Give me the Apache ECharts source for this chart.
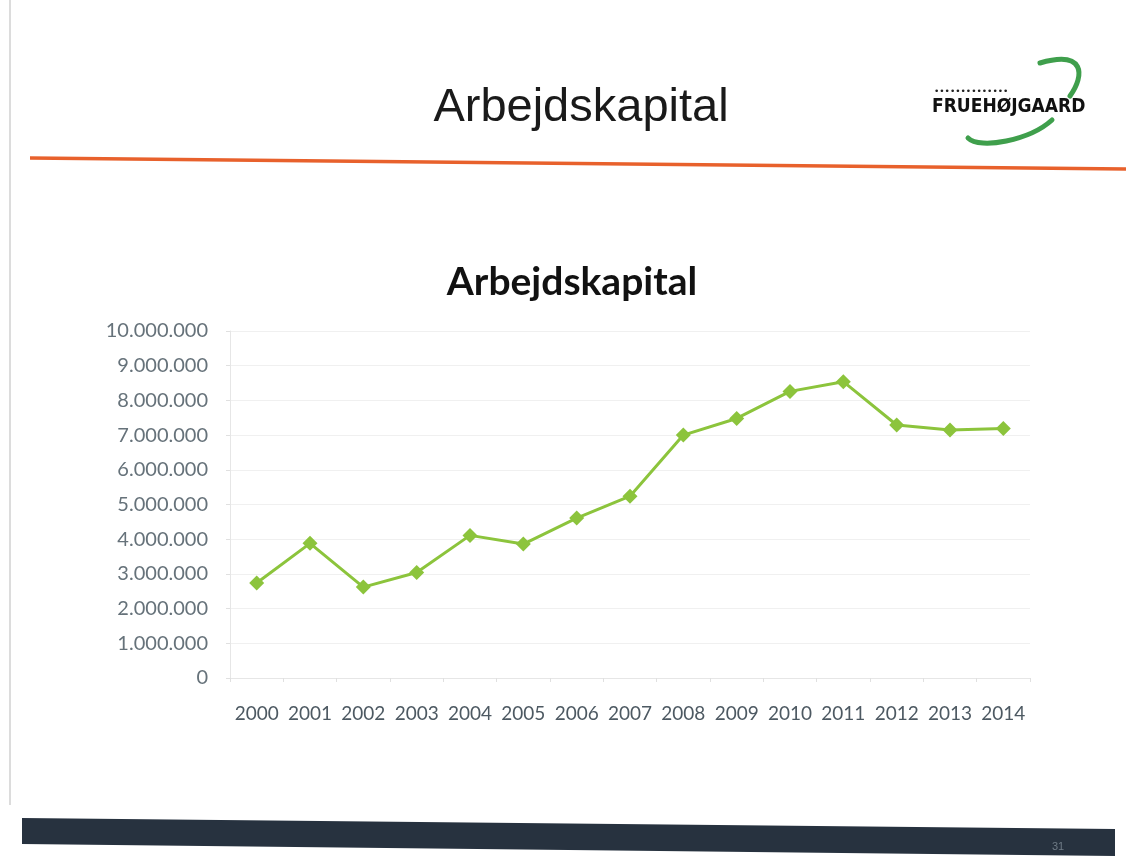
<!DOCTYPE html>
<html>
<head>
<meta charset="utf-8">
<script src="https://cdn.jsdelivr.net/npm/echarts@6/dist/echarts.min.js"></script>
<style>
html,body{margin:0;padding:0;background:#fff;}
#chart{width:1129px;height:864px;}
</style>
</head>
<body>
<div id="chart"></div>
<script>
const slideTitle = 'Arbejdskapital';
const chartTitle = 'Arbejdskapital';
const years = ['2000','2001','2002','2003','2004','2005','2006','2007','2008','2009','2010','2011','2012','2013','2014'];
const workingCapital = [2740000,3880000,2620000,3040000,4110000,3860000,4610000,5240000,7000000,7480000,8260000,8540000,7290000,7150000,7190000];
const yTicks = [0,1000000,2000000,3000000,4000000,5000000,6000000,7000000,8000000,9000000,10000000];
const pageNumber = '31';

function fmt(v){ return String(v).replace(/\B(?=(\d{3})+(?!\d))/g,'.'); }

const chart = echarts.init(document.getElementById('chart'));
chart.setOption({
  backgroundColor:'#ffffff',
  animation:false,
  title:[
    {text:slideTitle,left:576,top:80,textAlign:'center',
     textStyle:{fontFamily:'Liberation Sans, Arial, sans-serif',fontSize:47,fontWeight:'normal',color:'#1a1a1a'}},
    {text:chartTitle,left:567,top:258,textAlign:'center',
     textStyle:{fontFamily:'Lato, sans-serif',fontSize:39,fontWeight:'bold',color:'#111111'}}
  ],
  grid:{left:230,right:99,top:331,bottom:186,containLabel:false},
  xAxis:{
    type:'category',data:years,boundaryGap:true,
    axisLine:{show:true,lineStyle:{color:'#e6e6e6',width:1}},
    axisTick:{show:true,alignWithLabel:false,length:4,lineStyle:{color:'#e0e0e0'}},
    axisLabel:{margin:26,fontFamily:'Lato, sans-serif',fontSize:19,color:'#4d5962',interval:0}
  },
  yAxis:{
    type:'value',min:yTicks[0],max:yTicks[yTicks.length-1],interval:yTicks[1]-yTicks[0],
    axisLine:{show:true,lineStyle:{color:'#e6e6e6',width:1}},
    axisTick:{show:true,length:4,lineStyle:{color:'#e0e0e0'}},
    splitLine:{show:true,lineStyle:{color:'#f0f0f0',width:1}},
    axisLabel:{margin:22,fontFamily:'Lato, sans-serif',fontSize:20,color:'#66727a',formatter:fmt}
  },
  series:[{
    type:'line',data:workingCapital,
    symbol:'diamond',symbolSize:15,
    lineStyle:{color:'#8cc43c',width:3},
    itemStyle:{color:'#8cc43c'}
  }],
  graphic:[
    {type:'line',shape:{x1:10,y1:0,x2:10,y2:805},style:{stroke:'#d0d0d0',lineWidth:1.5}},
    {type:'line',shape:{x1:30,y1:158,x2:1126,y2:169},style:{stroke:'#e8612c',lineWidth:3.5}},
    {type:'polygon',shape:{points:[[22,818],[1115,829],[1115,856],[22,844]]},style:{fill:'#27323f'}},
    {type:'text',x:1058,y:847,style:{text:pageNumber,fill:'#6f7b86',font:'11px Liberation Sans, Arial',textAlign:'center',textVerticalAlign:'middle'}},
    {type:'text',x:934,y:92,style:{text:'••••••••••••••',fill:'#222',font:'9px DejaVu Sans',textVerticalAlign:'middle'}},
    {type:'text',x:932,y:107,style:{text:'FRUEHØJGAARD',fill:'#111',font:'bold 19px DejaVu Sans Condensed, Liberation Sans Narrow, sans-serif',textVerticalAlign:'middle'}},
    {type:'bezierCurve',shape:{x1:1040,y1:63,cpx1:1085,cpx2:1085,cpy1:50,cpy2:75,x2:1070,y2:96},style:{stroke:'#3f9f4c',lineWidth:5,fill:null,lineCap:'round'}},
    {type:'bezierCurve',shape:{x1:1052,y1:120,cpx1:1030,cpy1:140,cpx2:980,cpy2:150,x2:968,y2:138},style:{stroke:'#3f9f4c',lineWidth:5,fill:null,lineCap:'round'}}
  ]
});
</script>
</body>
</html>
